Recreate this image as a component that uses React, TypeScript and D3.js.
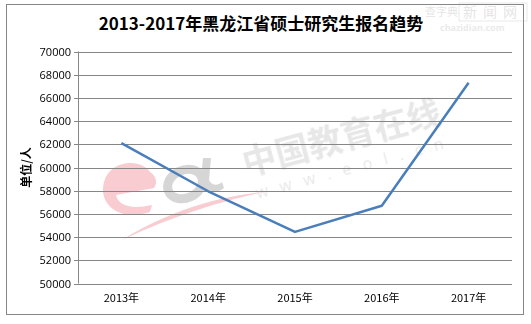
import React from "react";
import * as d3 from "d3";

const title = "2013-2017年黑龙江省硕士研究生报名趋势";
const yAxisTitle = "单位/人";
const categories = ["2013年", "2014年", "2015年", "2016年", "2017年"];
const values = [62100, 57950, 54450, 56700, 67300];
const yTicks = [50000, 52000, 54000, 56000, 58000, 60000, 62000, 64000, 66000, 68000, 70000];

const W = 531;
const H = 324;
const plot = { left: 78, right: 512, top: 51.5, bottom: 283.5 };

export default function App() {
  const x = d3.scaleBand<string>().domain(categories).range([plot.left, plot.right]);
  const y = d3.scaleLinear().domain([50000, 70000]).range([plot.bottom, plot.top]);
  const line = d3
    .line<number>()
    .x((_, i) => (x(categories[i]) as number) + x.bandwidth() / 2)
    .y((d) => y(d));
  const cjk = "'Noto Sans CJK SC', 'Noto Sans', sans-serif";
  const num = "'Open Sans', 'Noto Sans', sans-serif";

  return (
    <svg
      width={W}
      height={H}
      style={{ position: "absolute", left: 0, top: 0, background: "#fff" }}
    >
      <rect x={0} y={0} width={W} height={H} fill="#fff" />
      {/* outer border */}
      <rect x={6.5} y={4.5} width={517} height={310} fill="none" stroke="#868686" strokeWidth={1} />

      {/* top-right watermark */}
      <g opacity={0.3} fontFamily={cjk}>
        <text x={425} y={16} fontSize={11} fill="#aaa">查字典</text>
        <rect x={459} y={3} width={68} height={18} fill="none" stroke="#bbb" />
        <text x={463} y={17} fontSize={14} fill="#aaa" letterSpacing={6}>新闻网</text>
        <text x={440} y={31} fontSize={9} fill="#bbb" fontFamily={num} fontWeight="bold">chazidian.com</text>
      </g>

      {/* title */}
      <text
        x={261}
        y={30}
        textAnchor="middle"
        fontFamily={cjk}
        fontWeight="bold"
        fontSize={17}
        fill="#000"
      >
        {title}
      </text>

      {/* eol watermark */}
      <g opacity={0.4}>
        <path
          d="M150,172 C140,158 110,160 104,182 C98,205 120,222 150,212 L152,205 C130,210 118,205 116,195 L154,188 C158,182 156,176 150,172 Z"
          fill="#ee7f8a"
        />
        <path d="M122,240 C170,210 220,196 265,192 C225,200 175,215 122,240 Z" fill="#ee7f8a" />
        <ellipse cx={185} cy={184} rx={18} ry={14} fill="none" stroke="#999" strokeWidth={9} transform="rotate(-25 185 184)" />
        <path d="M203,158 L211,158 L209,180 C212,186 218,186 222,182 L224,188 C214,196 200,192 201,180 Z" fill="#999" />
        <g transform="rotate(-15 342 140)" fill="#c4c4c4" fontFamily={cjk}>
          <text x={342} y={150} textAnchor="middle" fontSize={34} fontWeight="bold">中国教育在线</text>
          <text x={348} y={175} textAnchor="middle" fontSize={16} fontFamily={num} letterSpacing={12}>www.eol.cn</text>
        </g>
      </g>

      {/* gridlines */}
      {yTicks.map((t) => (
        <line
          key={t}
          x1={plot.left - 4}
          x2={plot.right}
          y1={Math.round(y(t)) + 0.5}
          y2={Math.round(y(t)) + 0.5}
          stroke="#868686"
          strokeWidth={1}
        />
      ))}
      {/* y axis line */}
      <line x1={plot.left + 0.5} x2={plot.left + 0.5} y1={plot.top} y2={plot.bottom} stroke="#868686" />

      {/* y tick labels */}
      {yTicks.map((t) => (
        <text
          key={t}
          x={71}
          y={y(t) + 4}
          textAnchor="end"
          fontFamily={num}
          fontSize={11}
          fill="#000"
        >
          {t}
        </text>
      ))}

      {/* y axis title */}
      <text
        transform={`translate(31,${(plot.top + plot.bottom) / 2}) rotate(-90)`}
        textAnchor="middle"
        fontFamily={cjk}
        fontWeight="bold"
        fontSize={12}
        fill="#000"
      >
        {yAxisTitle}
      </text>

      {/* x labels */}
      {categories.map((c) => (
        <text
          key={c}
          x={(x(c) as number) + x.bandwidth() / 2}
          y={302}
          textAnchor="middle"
          fontFamily={cjk}
          fontSize={11}
          fill="#000"
        >
          {c}
        </text>
      ))}

      {/* series line */}
      <path d={line(values) || ""} fill="none" stroke="#4a7ebb" strokeWidth={2.5} strokeLinejoin="round" />
    </svg>
  );
}
